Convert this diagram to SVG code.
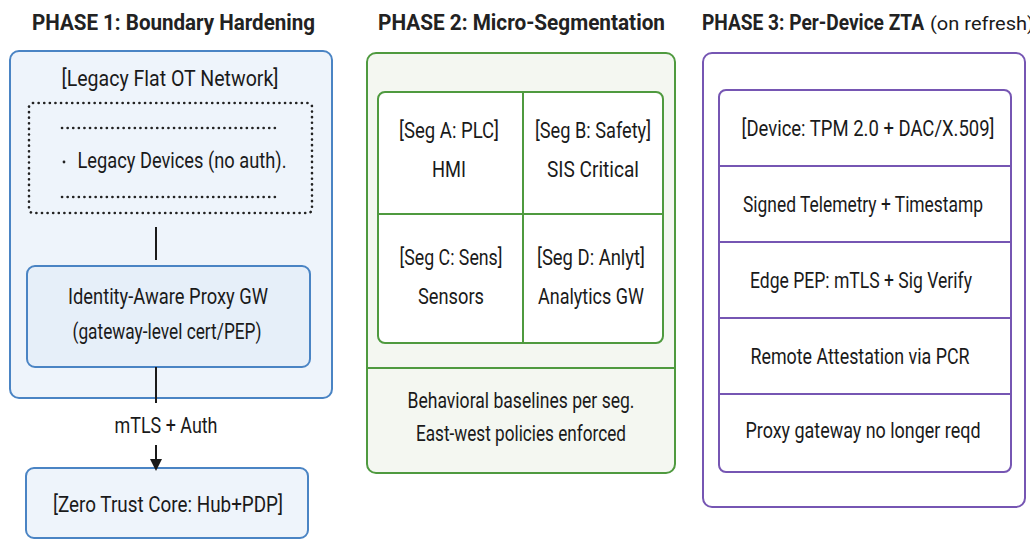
<svg xmlns="http://www.w3.org/2000/svg" width="1030" height="539" viewBox="0 0 1030 539">
<defs>
<style>
text{font-family:"Roboto","Liberation Sans",sans-serif;fill:#1a1a1a;font-size:22px;text-anchor:middle}
.title{font-weight:bold;font-size:22px;text-anchor:start;fill:#222}
.sub{font-size:19px;text-anchor:start}
.p1{fill:#eef4fb;stroke:#4a84c4;stroke-width:2}
.p1i{fill:#e6eff9;stroke:#4a84c4;stroke-width:2}
.p2{fill:#f4f7f1;stroke:#4f9a3f;stroke-width:2}
.p2i{fill:#ffffff;stroke:#4f9a3f;stroke-width:2}
.p3{fill:#ffffff;stroke:#7656b3;stroke-width:2}
.dot{fill:none;stroke:#222;stroke-width:2.6;stroke-dasharray:0.1 5.5;stroke-linecap:round}
.ln{stroke:#1a1a1a;stroke-width:2;fill:none}
</style>
<marker id="arr" markerWidth="12" markerHeight="12" refX="10" refY="6" orient="auto" markerUnits="userSpaceOnUse">
<path d="M0,0 L12,6 L0,12 Z" fill="#1a1a1a"/>
</marker>
</defs>
<rect width="1030" height="539" fill="#ffffff"/>

<text class="title" x="32" y="30" textLength="283" lengthAdjust="spacingAndGlyphs">PHASE 1: Boundary Hardening</text>
<text class="title" x="378" y="30" textLength="287" lengthAdjust="spacingAndGlyphs">PHASE 2: Micro-Segmentation</text>
<text class="title" x="702" y="30" textLength="222" lengthAdjust="spacingAndGlyphs">PHASE 3: Per-Device ZTA</text>
<text class="sub" x="930" y="30" textLength="104" lengthAdjust="spacingAndGlyphs">(on refresh)</text>

<g id="phase1">
<rect class="p1" x="10" y="51" width="322" height="347" rx="9"/>
<text x="170" y="86" textLength="217" lengthAdjust="spacingAndGlyphs">[Legacy Flat OT Network]</text>
</g>
<g id="legacy-devices">
<rect class="dot" x="29" y="103" width="283" height="110" rx="4"/>
<line class="dot" x1="62" y1="128" x2="275" y2="128"/>
<line class="dot" x1="62" y1="197" x2="275" y2="197"/>
<circle cx="64" cy="162" r="1.4" fill="#222"/>
<text x="182" y="168" textLength="209" lengthAdjust="spacingAndGlyphs">Legacy Devices (no auth).</text>
</g>
<g id="proxy-gw">
<rect class="p1i" x="27" y="266" width="283" height="101" rx="8"/>
<text x="168" y="304" textLength="200" lengthAdjust="spacingAndGlyphs">Identity-Aware Proxy GW</text>
<text x="167" y="339" textLength="189" lengthAdjust="spacingAndGlyphs">(gateway-level cert/PEP)</text>
</g>
<g id="zt-core">
<rect class="p1" x="26" y="468" width="282" height="70" rx="8" fill="#f3f7fc"/>
<text x="168" y="512" textLength="230" lengthAdjust="spacingAndGlyphs">[Zero Trust Core: Hub+PDP]</text>
</g>

<g id="phase2">
<rect class="p2" x="367" y="53" width="308" height="420" rx="9"/>
<line x1="367" y1="368" x2="675" y2="368" stroke="#4f9a3f" stroke-width="2"/>
<rect class="p2i" x="378" y="92" width="285" height="251" rx="7"/>
<line x1="523" y1="92" x2="523" y2="343" stroke="#4f9a3f" stroke-width="2"/>
<line x1="378" y1="214" x2="663" y2="214" stroke="#4f9a3f" stroke-width="2"/>
<text x="521" y="408" textLength="227" lengthAdjust="spacingAndGlyphs">Behavioral baselines per seg.</text>
<text x="521" y="441" textLength="210" lengthAdjust="spacingAndGlyphs">East-west policies enforced</text>
</g>
<g id="seg-a">
<text x="449" y="138" textLength="100" lengthAdjust="spacingAndGlyphs">[Seg A: PLC]</text>
<text x="449" y="177" textLength="34" lengthAdjust="spacingAndGlyphs">HMI</text>
</g>
<g id="seg-b">
<text x="593" y="138" textLength="116" lengthAdjust="spacingAndGlyphs">[Seg B: Safety]</text>
<text x="593" y="177" textLength="92" lengthAdjust="spacingAndGlyphs">SIS Critical</text>
</g>
<g id="seg-c">
<text x="451" y="265" textLength="103" lengthAdjust="spacingAndGlyphs">[Seg C: Sens]</text>
<text x="451" y="304" textLength="66" lengthAdjust="spacingAndGlyphs">Sensors</text>
</g>
<g id="seg-d">
<text x="591" y="265" textLength="108" lengthAdjust="spacingAndGlyphs">[Seg D: Anlyt]</text>
<text x="591" y="304" textLength="106" lengthAdjust="spacingAndGlyphs">Analytics GW</text>
</g>

<g id="phase3">
<rect class="p3" x="703" y="53" width="322" height="454" rx="9"/>
<rect class="p3" x="719" y="90" width="292" height="382" rx="7"/>
<line x1="719" y1="166" x2="1011" y2="166" stroke="#7656b3" stroke-width="2"/>
<line x1="719" y1="242" x2="1011" y2="242" stroke="#7656b3" stroke-width="2"/>
<line x1="719" y1="318" x2="1011" y2="318" stroke="#7656b3" stroke-width="2"/>
<line x1="719" y1="394" x2="1011" y2="394" stroke="#7656b3" stroke-width="2"/>
</g>
<g id="device"><text x="868" y="136" textLength="253" lengthAdjust="spacingAndGlyphs">[Device: TPM 2.0 + DAC/X.509]</text></g>
<g id="telemetry"><text x="863" y="212" textLength="240" lengthAdjust="spacingAndGlyphs">Signed Telemetry + Timestamp</text></g>
<g id="edge-pep"><text x="861" y="288" textLength="222" lengthAdjust="spacingAndGlyphs">Edge PEP: mTLS + Sig Verify</text></g>
<g id="attestation"><text x="860" y="364" textLength="219" lengthAdjust="spacingAndGlyphs">Remote Attestation via PCR</text></g>
<g id="proxy-reqd"><text x="863" y="438" textLength="235" lengthAdjust="spacingAndGlyphs">Proxy gateway no longer reqd</text></g>

<g id="connectors">
<line class="ln" x1="156" y1="227" x2="156" y2="260"/>
<line class="ln" x1="156" y1="367" x2="156" y2="403"/>
<text x="166" y="433" textLength="103" lengthAdjust="spacingAndGlyphs">mTLS + Auth</text>
<line class="ln" x1="156" y1="445" x2="156" y2="469" marker-end="url(#arr)"/>
</g>
</svg>
